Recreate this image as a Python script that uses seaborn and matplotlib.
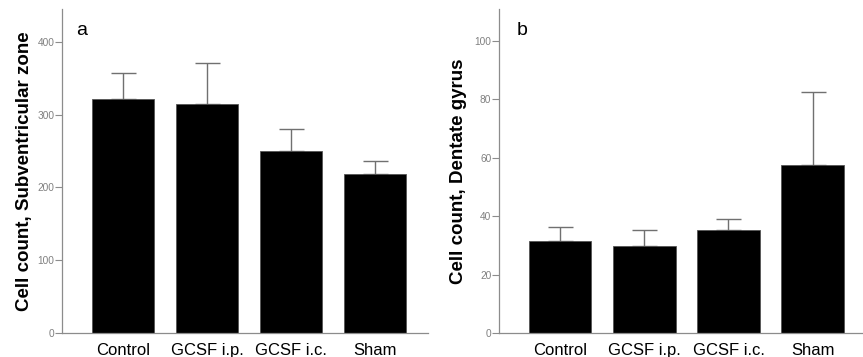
import matplotlib
matplotlib.use("Agg")
import matplotlib.pyplot as plt
import seaborn as sns
import pandas as pd
import numpy as np

groups = ["Control", "GCSF i.p.", "GCSF i.c.", "Sham"]
svz_mean = [321, 314, 250, 219]
svz_upper = [357, 371, 280, 236]
dg_mean = [31.5, 29.8, 35.2, 57.4]
dg_upper = [36.2, 35.4, 39.0, 82.4]

sns.set_theme(style="white")
plt.rcParams["font.family"] = ["Liberation Sans", "DejaVu Sans"]

fig = plt.figure(figsize=(8.63, 3.57), dpi=100)
ax_a = fig.add_axes([0.0718, 0.0672, 0.4242, 0.9078])
ax_b = fig.add_axes([0.5782, 0.0672, 0.4218, 0.9078])

grey = "#8c8c8c"

def panel(ax, means, uppers, ylim, yticks, ylabel, letter, xlim, letter_x, ylab_x):
    df = pd.DataFrame({"group": groups, "value": means})
    sns.barplot(data=df, x="group", y="value", ax=ax, color="black",
                edgecolor="#555555", linewidth=0.6, width=0.74, saturation=1)
    err = np.array(uppers) - np.array(means)
    ax.errorbar(np.arange(len(groups)), means,
                yerr=[np.zeros(len(means)), err], fmt="none",
                ecolor="#707070", elinewidth=1.0, capsize=9, capthick=1.0, zorder=0.5)
    ax.set_ylim(*ylim)
    ax.set_xlim(*xlim)
    ax.set_yticks(yticks)
    ax.set_xlabel("")
    ax.set_ylabel(ylabel, fontsize=13.5, fontweight="bold", color="black")
    ax.yaxis.set_label_coords(ylab_x, 0.5)
    for s in ["top", "right"]:
        ax.spines[s].set_visible(False)
    for s in ["left", "bottom"]:
        ax.spines[s].set_color(grey)
        ax.spines[s].set_linewidth(0.9)
    ax.tick_params(axis="y", which="both", left=True, length=5, width=0.8,
                   color=grey, labelcolor="#808080", labelsize=7.3, pad=0.5)
    ax.tick_params(axis="x", bottom=False, labelsize=12, labelcolor="black", pad=1.5)
    ax.text(letter_x, 0.92, letter, transform=ax.transAxes, fontsize=14,
            va="baseline", ha="left", color="black")

panel(ax_a, svz_mean, svz_upper, (0, 445), [0, 100, 200, 300, 400],
      "Cell count, Subventricular zone", "a", (-0.73, 3.63), 0.038, -0.08)
panel(ax_b, dg_mean, dg_upper, (0, 111), [0, 20, 40, 60, 80, 100],
      "Cell count, Dentate gyrus", "b", (-0.73, 3.60), 0.048, -0.088)

fig.savefig("out.png", dpi=100)
